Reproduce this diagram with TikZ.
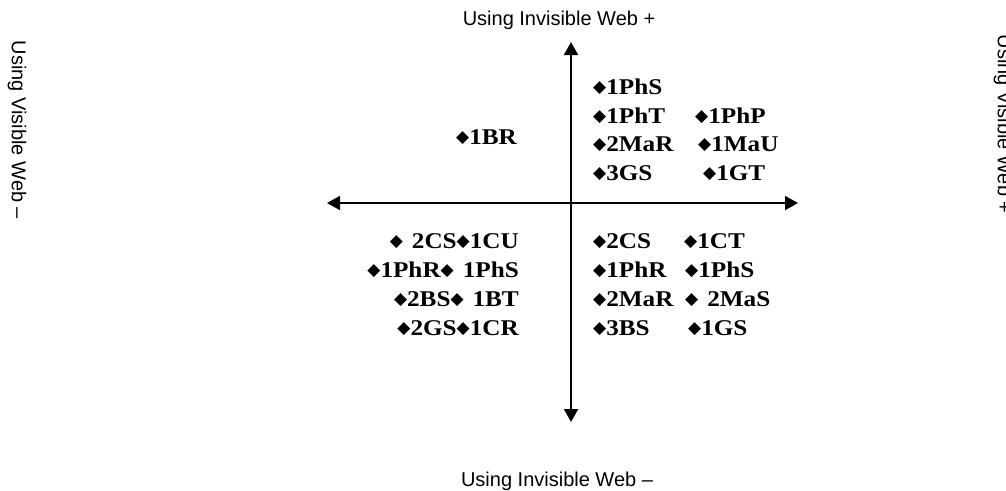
\documentclass[tikz,border=0pt]{standalone}
\usepackage{fontspec}
\setmainfont{Liberation Serif}
\newfontfamily\codefont{Liberation Serif}[FakeStretch=1.12]
\newfontfamily\axisfont{Liberation Sans}
\newfontfamily\symfont{DejaVu Sans}
\usetikzlibrary{arrows.meta}

% black diamond used as a bullet before each code
\newcommand\dia{\raisebox{1.3pt}{\symfont\fontsize{17}{17}\selectfont ◆}}
% bullet followed by a wider gap
\newcommand\diasp{\dia\hspace{9pt}}

\tikzset{
  axis/.style={line width=2pt, {Triangle[length=13pt,width=14pt]}-{Triangle[length=13pt,width=14pt]}},
  code/.style={font=\codefont\bfseries\fontsize{22.5}{22.5}\selectfont, inner sep=0pt},
  axislabel/.style={font=\axisfont\fontsize{20}{20}\selectfont, inner sep=0pt}
}

\begin{document}
\begin{tikzpicture}[x=1pt, y=-1pt]
\useasboundingbox (0,0) rectangle (1006,490);

% axes
\coordinate (left)   at (327,203);
\coordinate (right)  at (798,203);
\coordinate (top)    at (571,42);
\coordinate (bottom) at (571,422);
\draw[axis] (left) -- (right);
\draw[axis] (top) -- (bottom);

% axis labels
\node[axislabel] (ltop) at (559,20) {Using Invisible Web +};
\node[axislabel] (lbot) at (557,481) {Using Invisible Web –};
\node[axislabel, rotate=-90] (lleft) at (17,130) {Using Visible Web –};
\node[axislabel, rotate=-90] (lright) at (1003,124) {Using Visible Web +};

% upper left quadrant
\node[code, anchor=base west] (ul1) at (456,144) {\dia1BR};

% upper right quadrant
\node[code, anchor=base west] (ur1) at (593,94)  {\dia1PhS};
\node[code, anchor=base west] (ur2) at (593,123) {\dia1PhT};
\node[code, anchor=base west] (ur3) at (593,151) {\dia2MaR};
\node[code, anchor=base west] (ur4) at (593,180) {\dia3GS};
\node[code, anchor=base west] (ur5) at (695,123) {\dia1PhP};
\node[code, anchor=base west] (ur6) at (698,151) {\dia1MaU};
\node[code, anchor=base west] (ur7) at (703,180) {\dia1GT};

% lower left quadrant
\node[code, anchor=base east] (ll1) at (519,248) {\diasp 2CS\dia1CU};
\node[code, anchor=base east] (ll2) at (519,277) {\dia1PhR\diasp 1PhS};
\node[code, anchor=base east] (ll3) at (519,306) {\dia2BS\diasp 1BT};
\node[code, anchor=base east] (ll4) at (519,335) {\dia2GS\dia1CR};

% lower right quadrant
\node[code, anchor=base west] (lr1) at (593,248) {\dia2CS};
\node[code, anchor=base west] (lr2) at (593,277) {\dia1PhR};
\node[code, anchor=base west] (lr3) at (593,306) {\dia2MaR};
\node[code, anchor=base west] (lr4) at (593,335) {\dia3BS};
\node[code, anchor=base west] (lr5) at (684,248) {\dia1CT};
\node[code, anchor=base west] (lr6) at (685,277) {\dia1PhS};
\node[code, anchor=base west] (lr7) at (685,306) {\diasp 2MaS};
\node[code, anchor=base west] (lr8) at (688,335) {\dia1GS};
\end{tikzpicture}
\end{document}
